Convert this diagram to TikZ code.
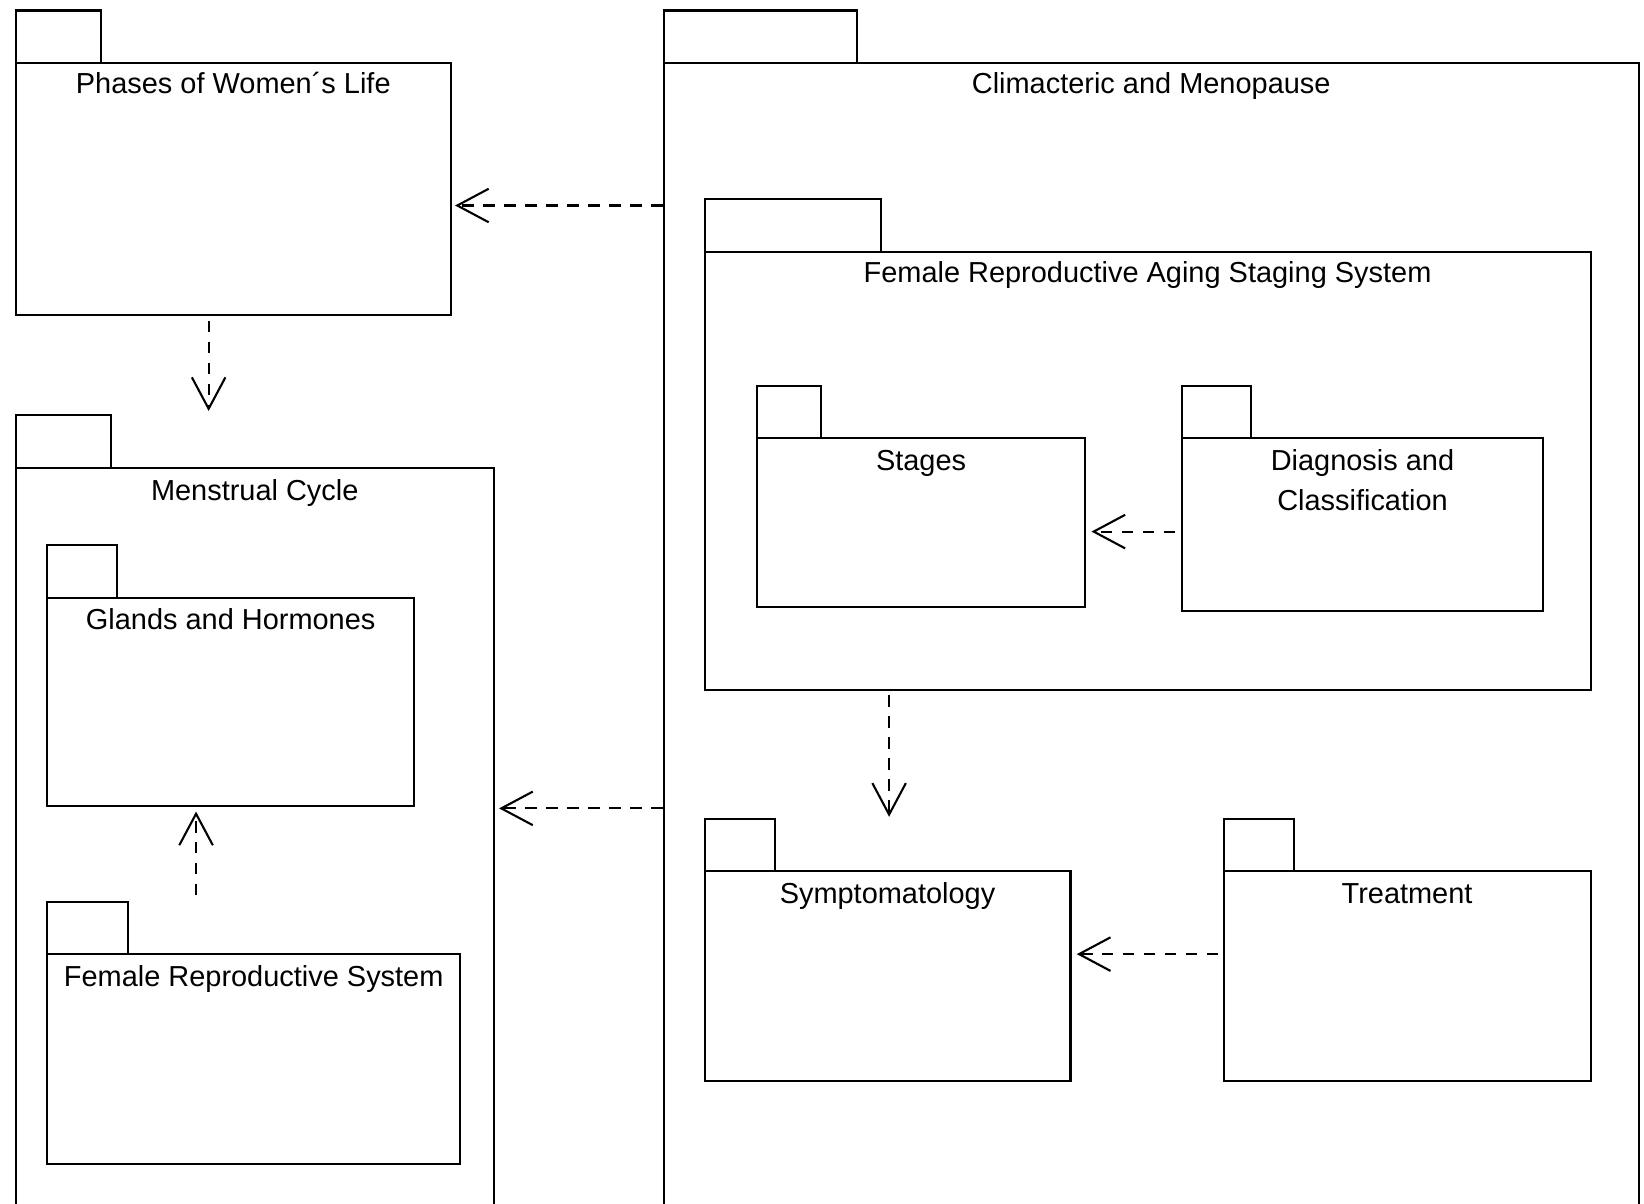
\documentclass[tikz,border=0pt]{standalone}
\usepackage{fontspec}
\setmainfont{Liberation Sans}
\usetikzlibrary{arrows.meta,fit}
\newcommand\mkpkg[6]{%
  \node[pk, fit={(#2,#3)(#4,#5)}] (#1) {};
  \node[pk, fit={(#2,#3-50)(#6,#3)}] (#1tab) {};}
\begin{document}
\begin{tikzpicture}[x=0.5pt,y=-0.5pt,
  pk/.style={draw, line width=1pt, inner sep=0pt, rectangle},
  ttl/.style={font=\fontsize{13.8}{19}\selectfont, inner sep=0pt, align=center, anchor=base},
  dep/.style={draw, line width=1pt, dash pattern=on 5.5pt off 4.5pt,
    -{Straight Barb[length=15pt,width=16pt]}}]
\useasboundingbox (0,0) rectangle (1568,1148);
\clip (0,0) rectangle (1568,1148);

% packages
\mkpkg{phases}{15}{60}{430}{300}{96}
\mkpkg{climac}{633}{60}{1563}{1170}{817}
\mkpkg{frass}{672}{240}{1517}{658}{840}
\mkpkg{stages}{722}{418}{1035}{579}{783}
\mkpkg{diag}{1127}{418}{1472}{583}{1193}
\mkpkg{sympt}{672}{831}{1021}{1031}{739}
\mkpkg{treat}{1167}{831}{1517}{1031}{1234}
\mkpkg{menst}{15}{446}{471}{1170}{106}
\mkpkg{glands}{45}{570}{395}{769}{112}
\mkpkg{frs}{45}{910}{439}{1110}{122}

% titles
\node[ttl] (tphases) at ([yshift=-15pt]phases.north) {Phases of Women´s Life};
\node[ttl] (tclimac) at ([yshift=-15pt]climac.north) {Climacteric and Menopause};
\node[ttl] (tfrass) at ([yshift=-15pt]frass.north) {Female Reproductive Aging Staging System};
\node[ttl] (tstages) at ([yshift=-16pt]stages.north) {Stages};
\node[ttl, anchor=center] (tdiag) at ([yshift=-20.5pt]diag.north) {Diagnosis and\\Classification};
\node[ttl] (tsympt) at ([yshift=-16pt]sympt.north) {Symptomatology};
\node[ttl] (ttreat) at ([yshift=-16pt]treat.north) {Treatment};
\node[ttl] (tmenst) at ([yshift=-16pt]menst.north) {Menstrual Cycle};
\node[ttl] (tglands) at ([yshift=-15.5pt]glands.north) {Glands and Hormones};
\node[ttl] (tfrs) at ([yshift=-16pt]frs.north) {Female Reproductive System};

% dependencies
\draw[dep, shorten >=1.5pt] (climac.west |- 0,196) -- (phases.east |- 0,196);
\draw[dep, shorten <=2.5pt, shorten >=1.5pt] (phases.south -| 199,0) -- (mensttab.north -| 199,0);
\draw[dep, shorten >=2pt] (climac.west |- 0,771) -- (menst.east |- 0,771);
\draw[dep, shorten <=2.5pt, shorten >=2pt] (frstab.north -| 187,0) -- (glands.south -| 187,0);
\draw[dep, shorten <=2.5pt, shorten >=2.5pt] (diag.west |- 0,507) -- (stages.east |- 0,507);
\draw[dep, shorten <=2pt, shorten >=0.5pt] (frass.south -| 848,0) -- (sympttab.north -| 848,0);
\draw[dep, shorten <=2pt, shorten >=2.5pt] (treat.west |- 0,910) -- (sympt.east |- 0,910);
\end{tikzpicture}
\end{document}
